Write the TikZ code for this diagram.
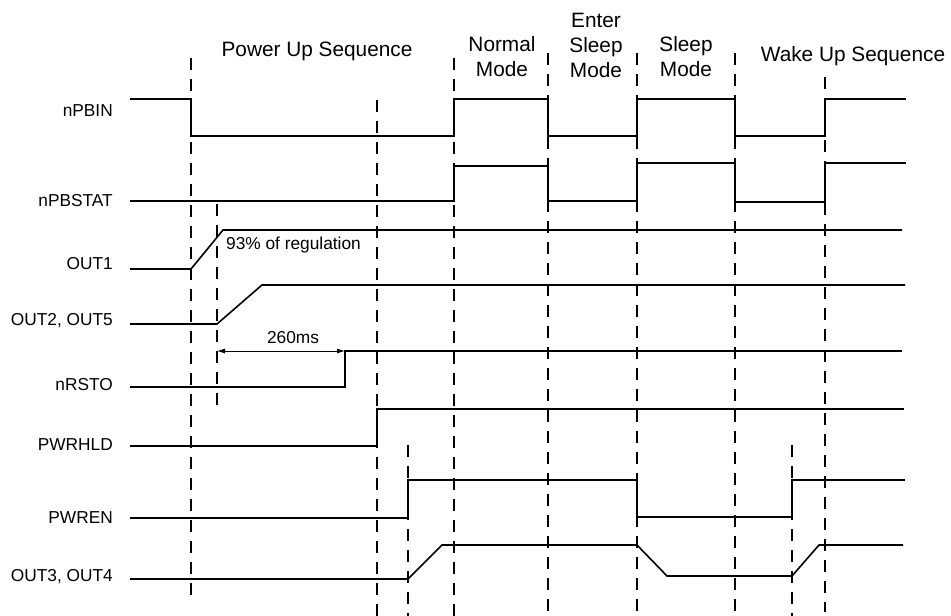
\documentclass[tikz,border=0pt]{standalone}
\usepackage{fontspec}
\setmainfont{Liberation Sans}
\usetikzlibrary{arrows.meta, positioning}
\tikzset{
  sig/.style={line width=1.6pt, line join=miter},
  guide/.style={line width=1.3pt, dash pattern=on 12pt off 9pt},
  lbl/.style={anchor=east, inner sep=0pt, font=\fontsize{17.3}{20}\selectfont},
  hdr/.style={align=center, inner sep=0pt, font=\fontsize{20.8}{25}\selectfont},
  note/.style={inner sep=0pt, font=\fontsize{17.3}{20}\selectfont},
  dim/.style={{Latex[length=8pt,width=5pt]}-{Latex[length=8pt,width=5pt]}, line width=0.8pt},
}

\begin{document}
\begin{tikzpicture}[x=1pt, y=-1pt]
    \useasboundingbox (0,0) rectangle (951,616);
    % phase markers
    \foreach \x/\a/\b in {191/58/603, 217/204/405, 377/100/616, 408/445/616, 454/58/616,
      548/53/612, 637/53/612, 735/53/612, 792/445/616, 825/77/612}
      \draw[guide] (\x,\a) -- (\x,\b);
    % headings
    \node[hdr] (pwrup) at (317,51) {Power Up Sequence};
    \node[hdr] (normal) at (502,57) {Normal\\Mode};
    \node[hdr] (enter) at (596,45) {Enter\\Sleep\\Mode};
    \node[hdr] (sleep) at (686,57) {Sleep\\Mode};
    \node[hdr] (wake) at (853,56) {Wake Up Sequence};
    % signal names
    \node[lbl] (pbin) at (113,111) {nPBIN};
    \node[lbl] (pbstat) at (113,201) {nPBSTAT};
    \node[lbl] (out1) at (113,264) {OUT1};
    \node[lbl] (out25) at (113,321) {OUT2, OUT5};
    \node[lbl] (rsto) at (113,385) {nRSTO};
    \node[lbl] (pwrhld) at (113,445) {PWRHLD};
    \node[lbl] (pwren) at (113,518) {PWREN};
    \node[lbl] (out34) at (113,577) {OUT3, OUT4};
    % waveforms
    \draw[sig] (130,99) -- (191,99) -- (191,136) -- (454,136) -- (454,99) -- (548,99) -- (548,136)
      -- (637,136) -- (637,99) -- (735,99) -- (735,136) -- (825,136) -- (825,99) -- (906,99);
    \draw[sig] (130,201) -- (454,201) -- (454,166) -- (548,166) -- (548,201) -- (637,201)
      -- (637,163) -- (735,163) -- (735,202) -- (825,202) -- (825,163) -- (906,163);
    \draw[sig] (130,269) -- (191,269) -- (223,230) -- (902,230);
    \draw[sig] (130,324) -- (217,324) -- (262,285) -- (905,285);
    \draw[sig] (130,387) -- (345,387) -- (345,351) -- (902,351);
    \draw[sig] (130,446) -- (377,446) -- (377,409) -- (904,409);
    \draw[sig] (130,518) -- (408,518) -- (408,480) -- (637,480) -- (637,517) -- (792,517)
      -- (792,480) -- (905,480);
    \draw[sig] (130,579) -- (408,579) -- (442,545) -- (637,545) -- (667,576) -- (792,576)
      -- (819,545) -- (903,545);
    % annotations
    \node[note, anchor=west] (reg) at (226,245) {93\% of regulation};
    \coordinate (t0) at (217,351);
    \coordinate (t1) at (345,351);
    \draw[dim] (t0) -- (t1);
    \node[note] (delay) at (293,338) {260ms};
\end{tikzpicture}
\end{document}
